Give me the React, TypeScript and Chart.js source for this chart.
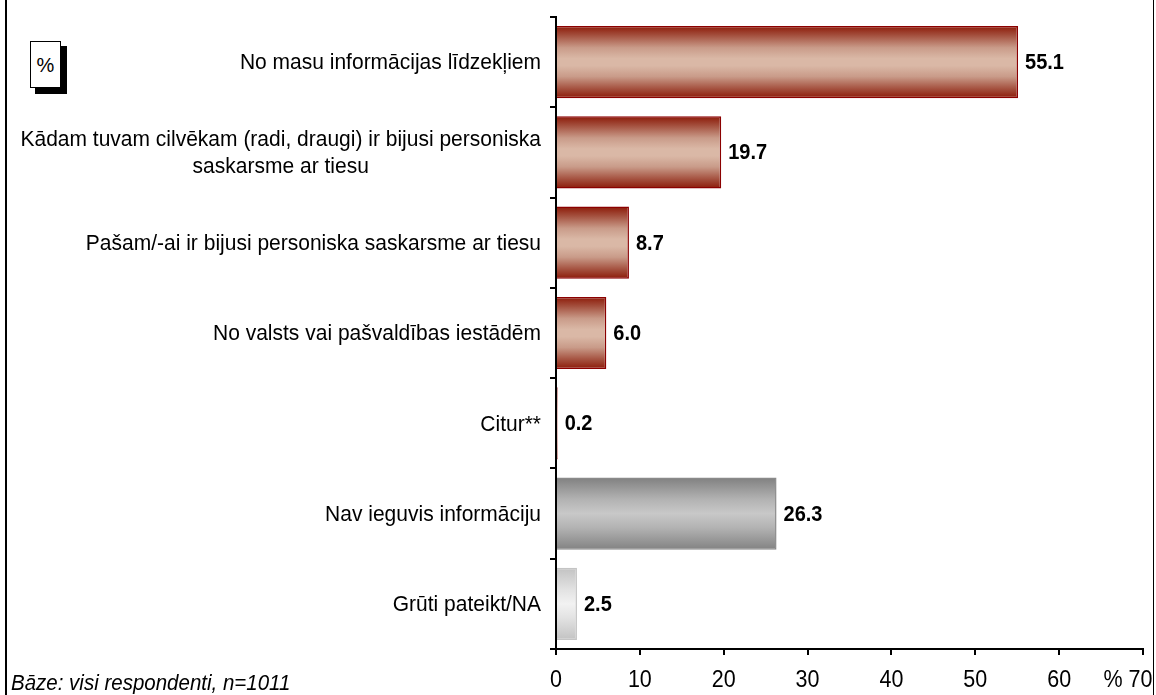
import React, { useEffect, useRef } from "react";
import { Chart, registerables } from "chart.js";

Chart.register(...registerables);

const categories: string[][] = [
  ["No masu informācijas līdzekļiem"],
  ["Kādam tuvam cilvēkam (radi, draugi) ir bijusi personiska", "saskarsme ar tiesu"],
  ["Pašam/-ai ir bijusi personiska saskarsme ar tiesu"],
  ["No valsts vai pašvaldības iestādēm"],
  ["Citur**"],
  ["Nav ieguvis informāciju"],
  ["Grūti pateikt/NA"],
];
const values: number[] = [55.1, 19.7, 8.7, 6.0, 0.2, 26.3, 2.5];
const valueLabels: string[] = ["55.1", "19.7", "8.7", "6.0", "0.2", "26.3", "2.5"];
const xTicks: number[] = [0, 10, 20, 30, 40, 50, 60, 70];
const baseNote = "Bāze: visi respondenti, n=1011";
const unitLabel = "%";

const FONT = "'Liberation Sans', Arial, sans-serif";
const STRETCH = 1.08;

const redStops: [number, string][] = [
  [0, "#8c1a08"],
  [0.12, "#a24c3a"],
  [0.3, "#c99b89"],
  [0.45, "#dab8a6"],
  [0.55, "#dab8a6"],
  [0.7, "#c99b89"],
  [0.88, "#a24c3a"],
  [1, "#8c1a08"],
];
const grayStops: [number, string][] = [
  [0, "#808080"],
  [0.3, "#b2b2b2"],
  [0.5, "#c8c8c8"],
  [0.7, "#b2b2b2"],
  [1, "#828282"],
];
const lightStops: [number, string][] = [
  [0, "#c2c2c2"],
  [0.3, "#e2e2e2"],
  [0.5, "#f2f2f2"],
  [0.7, "#e2e2e2"],
  [1, "#c2c2c2"],
];
const stopsFor = (i: number) => (i === 5 ? grayStops : i === 6 ? lightStops : redStops);
const borderFor = (i: number) => (i === 5 ? "#8a8a8a" : i === 6 ? "#c4c4c4" : "#8b0000");

const CAT_PCT = 0.8;

// draw text vertically stretched around its middle
const fillStretched = (ctx: any, txt: string, x: number, y: number) => {
  ctx.save();
  ctx.translate(x, y);
  ctx.scale(1, STRETCH);
  ctx.fillText(txt, 0, 0);
  ctx.restore();
};

const overlayPlugin = {
  id: "overlay",
  afterDatasetsDraw(chart: any) {
    const ctx = chart.ctx;
    const meta = chart.getDatasetMeta(0);
    ctx.save();
    ctx.fillStyle = "#000";
    ctx.font = `bold 20px ${FONT}`;
    ctx.textAlign = "left";
    ctx.textBaseline = "middle";
    meta.data.forEach((el: any, i: number) => {
      fillStretched(ctx, valueLabels[i], el.x + 7, el.y + 1);
    });
    ctx.restore();
  },
  afterDraw(chart: any) {
    const ctx = chart.ctx;
    const y = chart.scales.y;
    const x = chart.scales.x;
    ctx.save();
    ctx.fillStyle = "#000";
    // category labels
    ctx.font = `21px ${FONT}`;
    ctx.textBaseline = "middle";
    ctx.textAlign = "center";
    const right = 541;
    const lh = 27;
    categories.forEach((lines, i) => {
      const cy = y.getPixelForValue(i);
      const w = Math.max(...lines.map((l) => ctx.measureText(l).width));
      const cx = right - w / 2;
      lines.forEach((l, j) => {
        fillStretched(ctx, l, cx, cy + 1 + (j - (lines.length - 1) / 2) * lh);
      });
    });
    // x tick labels
    ctx.font = `21.5px ${FONT}`;
    ctx.textBaseline = "middle";
    xTicks.forEach((v, i) => {
      const px = x.getPixelForValue(v);
      const txt = String(v);
      if (i === xTicks.length - 1) {
        ctx.textAlign = "right";
        fillStretched(ctx, unitLabel + " " + txt, px + 9.5, 681);
      } else {
        ctx.textAlign = "center";
        fillStretched(ctx, txt, px, 681);
      }
    });
    ctx.restore();
  },
};

export default function App() {
  const ref = useRef<HTMLCanvasElement | null>(null);

  useEffect(() => {
    if (!ref.current) return;
    const gradient = (c: any) => {
      const chart = c.chart;
      const i = c.dataIndex;
      const stops = stopsFor(i);
      const ys = chart.scales && chart.scales.y;
      if (!ys || !chart.chartArea) return stops[Math.floor(stops.length / 2)][1];
      const center = ys.getPixelForValue(i);
      const half = ((ys.height / categories.length) * CAT_PCT) / 2;
      const g = chart.ctx.createLinearGradient(0, center - half, 0, center + half);
      stops.forEach(([o, col]) => g.addColorStop(o, col));
      return g;
    };
    const chart = new Chart(ref.current, {
      type: "bar",
      data: {
        labels: categories.map((c) => c.join(" ")),
        datasets: [
          {
            data: values,
            backgroundColor: gradient as any,
            borderColor: values.map((_, i) => borderFor(i)),
            borderWidth: 1.5,
            borderSkipped: "start",
            categoryPercentage: CAT_PCT,
            barPercentage: 1,
          },
        ],
      },
      options: {
        indexAxis: "y",
        responsive: true,
        maintainAspectRatio: false,
        animation: false,
        layout: { padding: { left: 550, right: 13, top: 17, bottom: 40 } },
        plugins: { legend: { display: false }, tooltip: { enabled: false } },
        scales: {
          x: {
            min: 0,
            max: 70,
            z: 1,
            ticks: { stepSize: 10, display: false },
            grid: { drawOnChartArea: false, tickLength: 6, color: "#000", lineWidth: 2 },
            border: { color: "#000", width: 2 },
          },
          y: {
            z: 1,
            ticks: { display: false },
            grid: { drawOnChartArea: false, offset: true, tickLength: 6, color: "#000", lineWidth: 2 },
            border: { color: "#000", width: 2 },
          },
        },
      },
      plugins: [overlayPlugin],
    });
    return () => chart.destroy();
  }, []);

  return (
    <div
      style={{
        position: "absolute",
        left: 0,
        top: 0,
        width: 1156,
        height: 695,
        background: "#fff",
        overflow: "hidden",
        fontFamily: FONT,
      }}
    >
      <canvas ref={ref} style={{ position: "absolute", left: 0, top: 0 }} />
      <div style={{ position: "absolute", left: 5, top: 0, width: 2, height: 695, background: "#000" }} />
      <div style={{ position: "absolute", left: 1153, top: 0, width: 1, height: 695, background: "#000" }} />
      <div style={{ position: "absolute", left: 35, top: 46, width: 32, height: 48, background: "#000" }} />
      <div
        style={{
          position: "absolute",
          left: 30,
          top: 41,
          width: 29,
          height: 45,
          background: "#fff",
          border: "1.5px solid #000",
          display: "flex",
          alignItems: "center",
          justifyContent: "center",
          fontSize: 20,
          lineHeight: "20px",
        }}
      >
        {unitLabel}
      </div>
      <div
        style={{
          position: "absolute",
          left: 11,
          top: 669,
          fontSize: 20.5,
          lineHeight: "26px",
          fontStyle: "italic",
          whiteSpace: "nowrap",
          transform: "scaleY(1.08)",
          transformOrigin: "left center",
        }}
      >
        {baseNote}
      </div>
    </div>
  );
}
